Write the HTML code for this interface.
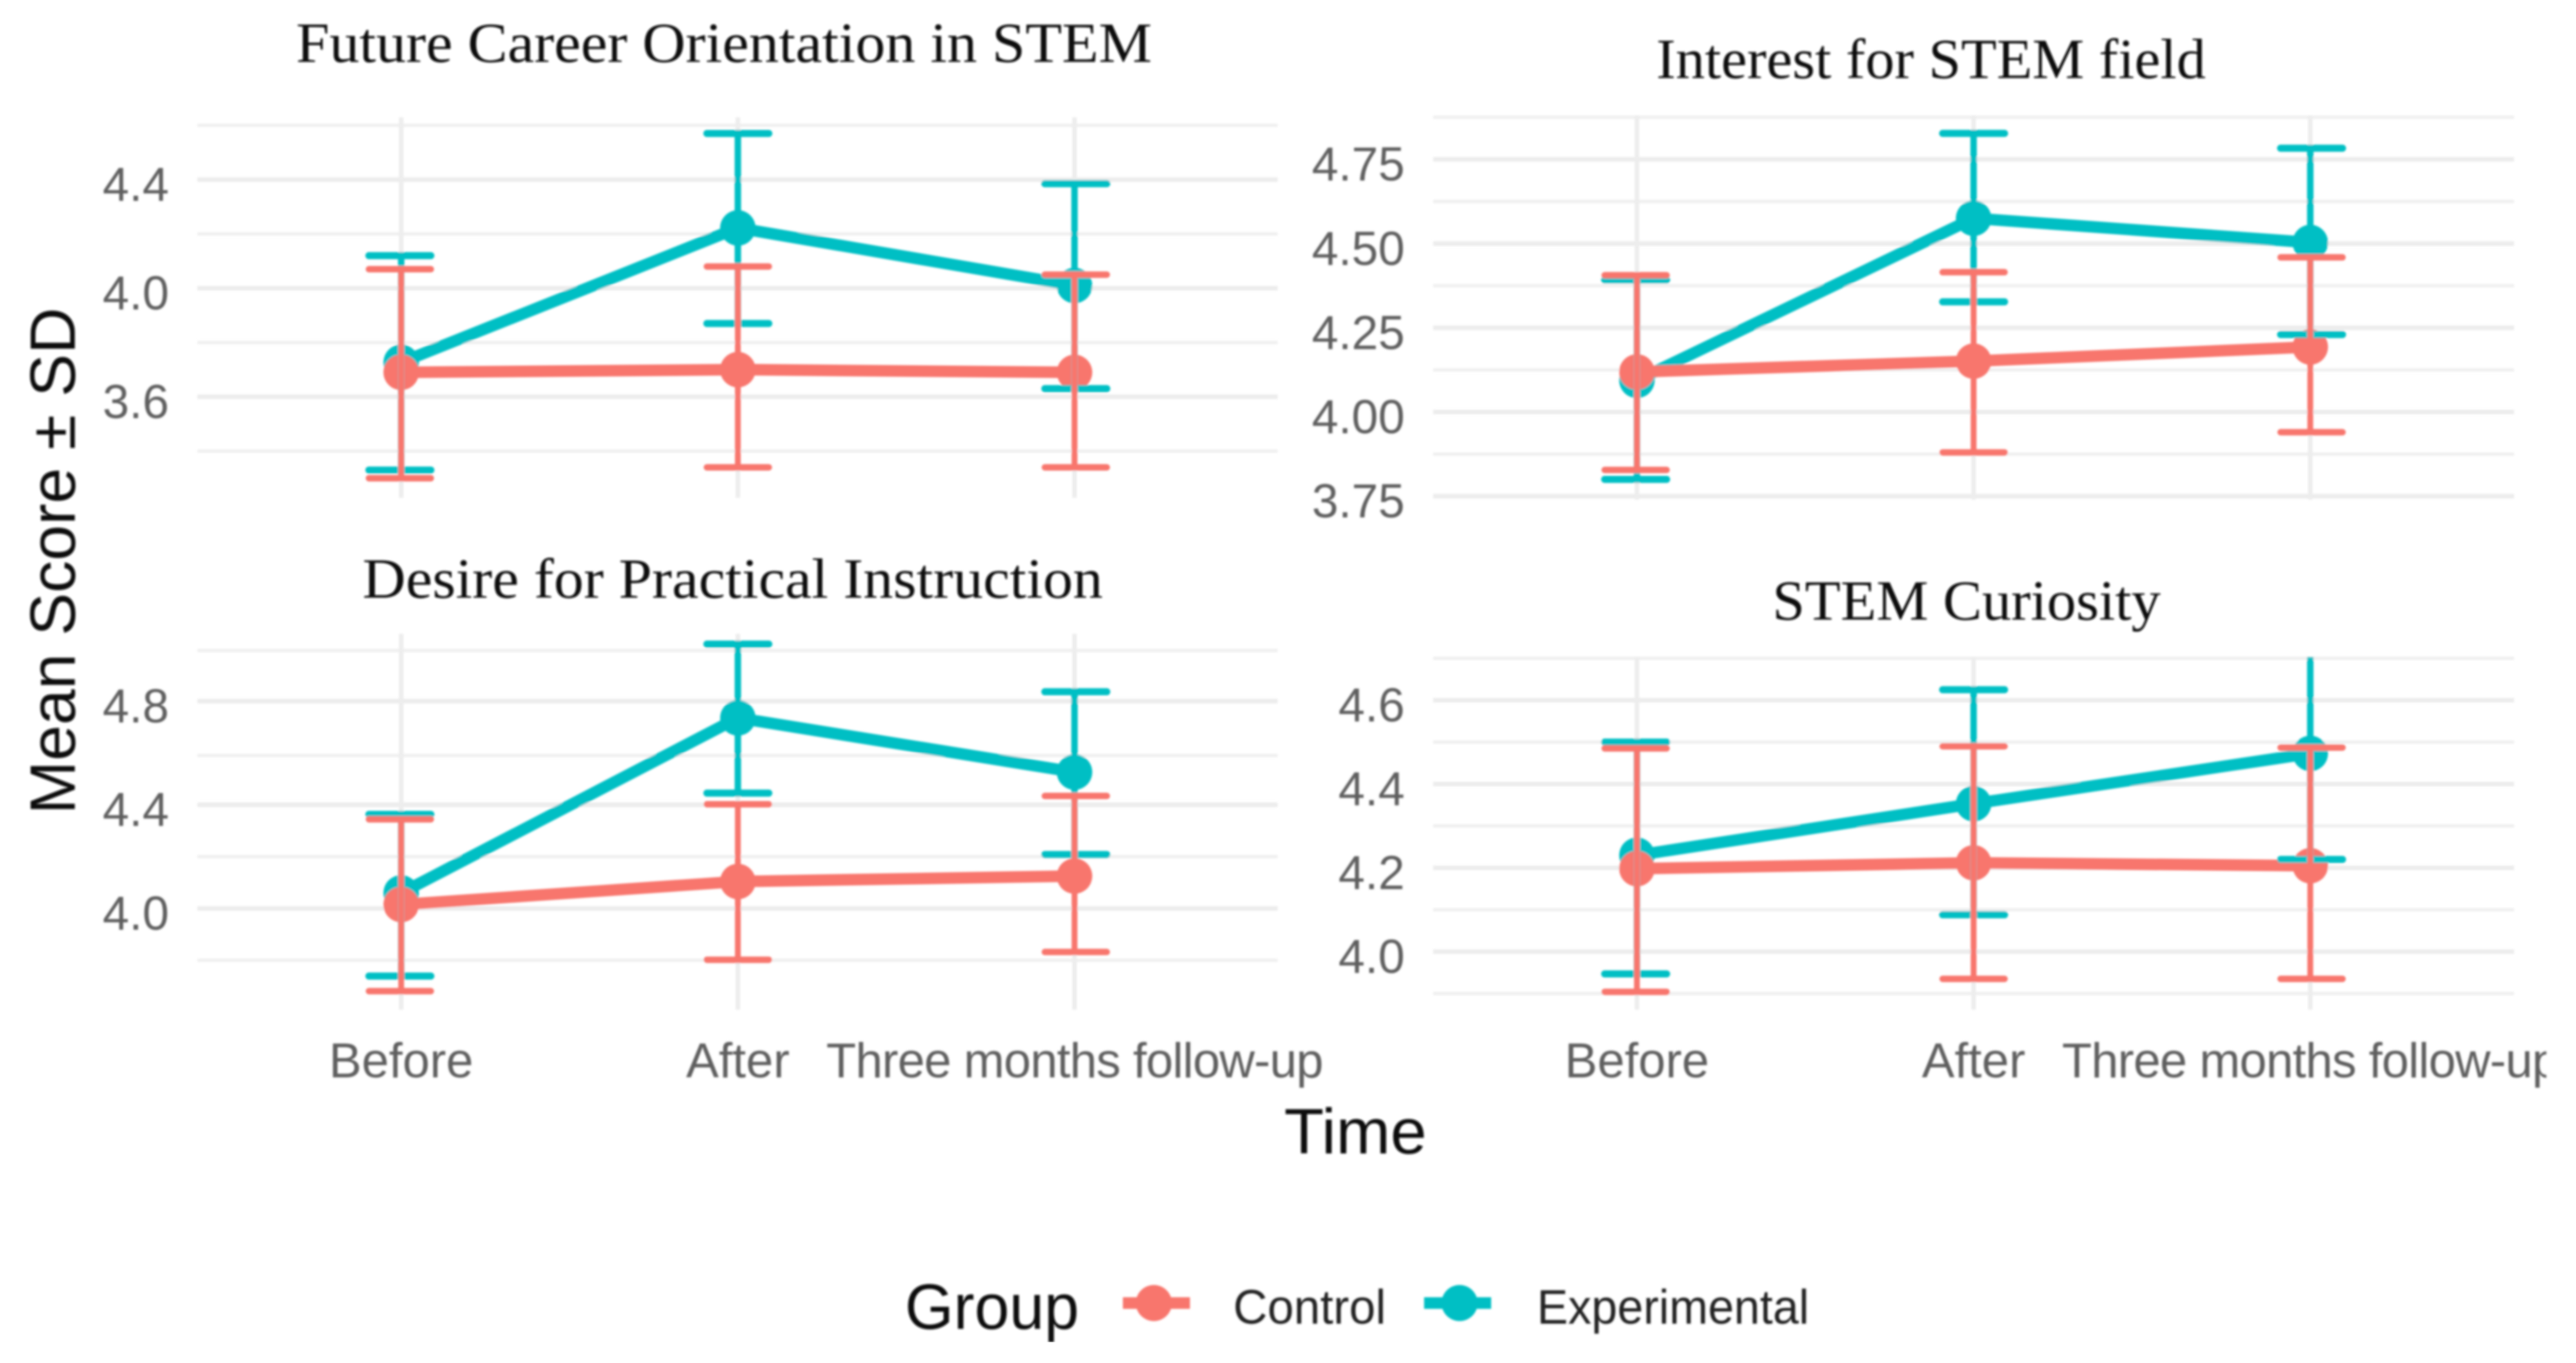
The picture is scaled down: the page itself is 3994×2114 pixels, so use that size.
<!DOCTYPE html>
<html lang="en">
<head>
<meta charset="utf-8">
<title>Mean Score by Time and Group</title>
<style>
html,body{margin:0;padding:0;background:#fff;}
svg{display:block;}
text{font-family:"Liberation Sans",sans-serif;}
.title{font-family:"Liberation Serif",serif;font-size:88px;fill:#111;}
.axis-title{font-size:99px;fill:#111;}
.legend-label{font-size:75px;fill:#222;}
.tick{font-size:74px;fill:#5e5e5e;}
.tick-x{font-size:76px;fill:#5e5e5e;}
.tick-x-long{letter-spacing:-1.1px;}
</style>
</head>
<body>
<svg id="chart" xmlns="http://www.w3.org/2000/svg" width="3994" height="2114" viewBox="0 0 3994 2114">
  <defs>
    <filter id="soft" x="0" y="0" width="100%" height="100%"><feGaussianBlur stdDeviation="1.5"/></filter>
    <clipPath id="clip-right"><rect x="0" y="0" width="3948" height="2114"/></clipPath>
  </defs>
  <rect width="3994" height="2114" fill="#fff"/>
  <g id="root" filter="url(#soft)">
    <g id="panels" clip-path="url(#clip-right)"></g>
    <text class="title" x="459" y="96" textLength="1327" lengthAdjust="spacingAndGlyphs">Future Career Orientation in STEM</text>
    <text class="title" x="2568" y="121" textLength="852" lengthAdjust="spacingAndGlyphs">Interest for STEM field</text>
    <text class="title" x="562" y="927" textLength="1148" lengthAdjust="spacingAndGlyphs">Desire for Practical Instruction</text>
    <text class="title" x="2748" y="961" textLength="602" lengthAdjust="spacingAndGlyphs">STEM Curiosity</text>
    <text class="axis-title" transform="translate(116 1263) rotate(-90)" textLength="786" lengthAdjust="spacingAndGlyphs">Mean Score ± SD</text>
    <text class="axis-title" x="1991" y="1789" textLength="221" lengthAdjust="spacingAndGlyphs">Time</text>
    <g>
      <text class="axis-title" x="1403" y="2061" textLength="270" lengthAdjust="spacingAndGlyphs">Group</text>
      <g>
        <line x1="1741" x2="1845" y1="2021" y2="2021" stroke="#F8766D" stroke-width="18"/>
        <circle cx="1789" cy="2021" r="28" fill="#F8766D"/>
        <text class="legend-label" x="1912" y="2053" textLength="237" lengthAdjust="spacingAndGlyphs">Control</text>
      </g>
      <g>
        <line x1="2208" x2="2312" y1="2021" y2="2021" stroke="#00BFC4" stroke-width="18"/>
        <circle cx="2263" cy="2021" r="28" fill="#00BFC4"/>
        <text class="legend-label" x="2383" y="2053" textLength="422" lengthAdjust="spacingAndGlyphs">Experimental</text>
      </g>
    </g>
  </g>
</svg>
<script>
// ---- Data ----
const categories = ['Before', 'After', 'Three months follow-up'];

const careerControlMean = [3.69, 3.70, 3.69];
const careerControlUpper = [4.07, 4.08, 4.05];
const careerControlLower = [3.30, 3.34, 3.34];
const careerExpMean = [3.727, 4.222, 4.01];
const careerExpUpper = [4.12, 4.57, 4.385];
const careerExpLower = [3.33, 3.87, 3.63];
const careerMajorTicks = [3.6, 4.0, 4.4];
const careerMinorTicks = [3.4, 3.8, 4.2, 4.6];
const careerTickLabels = ['3.6', '4.0', '4.4'];

const interestControlMean = [4.119, 4.151, 4.193];
const interestControlUpper = [4.406, 4.415, 4.459];
const interestControlLower = [3.828, 3.88, 3.94];
const interestExpMean = [4.094, 4.575, 4.503];
const interestExpUpper = [4.392, 4.827, 4.783];
const interestExpLower = [3.80, 4.327, 4.23];
const interestMajorTicks = [3.75, 4.0, 4.25, 4.5, 4.75];
const interestMinorTicks = [3.875, 4.125, 4.375, 4.625, 4.875];
const interestTickLabels = ['3.75', '4.00', '4.25', '4.50', '4.75'];

const desireControlMean = [4.015, 4.104, 4.125];
const desireControlUpper = [4.344, 4.402, 4.434];
const desireControlLower = [3.681, 3.802, 3.832];
const desireExpMean = [4.06, 4.735, 4.526];
const desireExpUpper = [4.363, 5.02, 4.836];
const desireExpLower = [3.739, 4.445, 4.208];
const desireMajorTicks = [4.0, 4.4, 4.8];
const desireMinorTicks = [3.8, 4.2, 4.59, 4.995];
const desireTickLabels = ['4.0', '4.4', '4.8'];

const curiosityControlMean = [4.198, 4.212, 4.205];
const curiosityControlUpper = [4.485, 4.49, 4.487];
const curiosityControlLower = [3.904, 3.935, 3.935];
const curiosityExpMean = [4.23, 4.353, 4.473];
const curiosityExpUpper = [4.50, 4.625, 4.73];
const curiosityExpLower = [3.947, 4.088, 4.22];
const curiosityMajorTicks = [4.0, 4.2, 4.4, 4.6];
const curiosityMinorTicks = [3.9, 4.1, 4.3, 4.5, 4.7];
const curiosityTickLabels = ['4.0', '4.2', '4.4', '4.6'];

// ---- Layout ----
const CONTROL = '#F8766D';
const EXPERIMENTAL = '#00BFC4';
const NS = 'http://www.w3.org/2000/svg';

function layer(parent, name) {
  const el = document.createElementNS(NS, 'g');
  
  
  parent.appendChild(el);
  return el;
}
function draw(parent, tag, name, attrs) {
  const el = document.createElementNS(NS, tag);
  
  
  for (const k in attrs) el.setAttribute(k, attrs[k]);
  parent.appendChild(el);
  return el;
}

function drawPanel(id, box, d) {
  const xScale = i => box.x0 + i * box.step;
  const capX = i => box.x0 - 2 + i * (box.step + 2);
  const yScale = v => box.y4 - (v - 4) * box.unit;
  const g = layer(document.getElementById('panels'), 'panel-' + id);

  const clipId = 'clip-' + id;
  const clip = document.createElementNS(NS, 'clipPath');
  clip.setAttribute('id', clipId);
  const clipRect = document.createElementNS(NS, 'rect');
  clipRect.setAttribute('x', box.left);
  clipRect.setAttribute('y', box.top);
  clipRect.setAttribute('width', box.right - box.left);
  clipRect.setAttribute('height', box.bottom - box.top);
  clip.appendChild(clipRect);
  g.appendChild(clip);

  const grid = layer(g, id + '-grid');
  d.minor.forEach(v => {
    draw(grid, 'line', id + '-grid-minor', {x1: box.left, x2: box.right, y1: yScale(v), y2: yScale(v), stroke: '#efefef', 'stroke-width': 5});
  });
  d.major.forEach(v => {
    draw(grid, 'line', id + '-grid-major', {x1: box.left, x2: box.right, y1: yScale(v), y2: yScale(v), stroke: '#ececec', 'stroke-width': 7});
  });
  categories.forEach((c, i) => {
    draw(grid, 'line', id + '-grid-vertical', {x1: xScale(i), x2: xScale(i), y1: box.top, y2: box.bottom, stroke: '#ededed', 'stroke-width': 7});
  });

  const yAxis = layer(g, id + '-y-axis');
  d.major.forEach((v, i) => {
    const t = draw(yAxis, 'text', id + '-y-tick-label', {class: 'tick', x: box.labelX, y: yScale(v) + 33, 'text-anchor': 'end'});
    t.textContent = d.labels[i];
  });

  if (box.showX) {
    const xAxis = layer(g, id + '-x-axis');
    categories.forEach((c, i) => {
      const cls = c.length > 10 ? 'tick-x tick-x-long' : 'tick-x';
      const t = draw(xAxis, 'text', id + '-x-tick-label', {class: cls, x: xScale(i), y: 1671, 'text-anchor': 'middle'});
      t.textContent = c;
    });
  }

  const marks = layer(g, id + '-marks');
  marks.setAttribute('clip-path', 'url(#' + clipId + ')');

  const linePoints = m => m.map((v, i) => xScale(i) + ',' + yScale(v)).join(' ');
  draw(marks, 'polyline', id + '-line-experimental', {points: linePoints(d.expMean), fill: 'none', stroke: EXPERIMENTAL, 'stroke-width': 18, 'stroke-linejoin': 'round'});
  draw(marks, 'polyline', id + '-line-control', {points: linePoints(d.ctlMean), fill: 'none', stroke: CONTROL, 'stroke-width': 18, 'stroke-linejoin': 'round'});

  d.expMean.forEach((v, i) => {
    draw(marks, 'circle', id + '-point-experimental', {cx: xScale(i), cy: yScale(v), r: 27.5, fill: EXPERIMENTAL});
  });
  d.ctlMean.forEach((v, i) => {
    draw(marks, 'circle', id + '-point-control', {cx: xScale(i), cy: yScale(v), r: 27.5, fill: CONTROL});
  });

  const errorBars = (upper, lower, color, label, capWidth, barWidth) => {
    upper.forEach((u, i) => {
      const x = xScale(i), cx = capX(i), lo = lower[i], half = 48;
      draw(marks, 'line', id + '-errorbar-' + label, {x1: x, x2: x, y1: yScale(u), y2: yScale(lo), stroke: color, 'stroke-width': barWidth});
      draw(marks, 'line', id + '-errorcap-upper-' + label, {x1: cx - half, x2: cx + half, y1: yScale(u), y2: yScale(u), stroke: color, 'stroke-width': capWidth, 'stroke-linecap': 'round'});
      draw(marks, 'line', id + '-errorcap-lower-' + label, {x1: cx - half, x2: cx + half, y1: yScale(lo), y2: yScale(lo), stroke: color, 'stroke-width': capWidth, 'stroke-linecap': 'round'});
    });
  };
  errorBars(d.expUpper, d.expLower, EXPERIMENTAL, 'experimental', 11, 10);
  errorBars(d.ctlUpper, d.ctlLower, CONTROL, 'control', 10, 9);
}

drawPanel('career',
  {x0: 622, step: 522, y4: 447, unit: 421, left: 306, right: 1981, top: 182, bottom: 772, labelX: 262, showX: false},
  {ctlMean: careerControlMean, ctlUpper: careerControlUpper, ctlLower: careerControlLower,
   expMean: careerExpMean, expUpper: careerExpUpper, expLower: careerExpLower,
   major: careerMajorTicks, minor: careerMinorTicks, labels: careerTickLabels});
drawPanel('interest',
  {x0: 2538, step: 522, y4: 639, unit: 522.5, left: 2222, right: 3898, top: 179, bottom: 775, labelX: 2178, showX: false},
  {ctlMean: interestControlMean, ctlUpper: interestControlUpper, ctlLower: interestControlLower,
   expMean: interestExpMean, expUpper: interestExpUpper, expLower: interestExpLower,
   major: interestMajorTicks, minor: interestMinorTicks, labels: interestTickLabels});
drawPanel('desire',
  {x0: 622, step: 522, y4: 1409, unit: 402, left: 306, right: 1981, top: 983, bottom: 1566, labelX: 262, showX: true},
  {ctlMean: desireControlMean, ctlUpper: desireControlUpper, ctlLower: desireControlLower,
   expMean: desireExpMean, expUpper: desireExpUpper, expLower: desireExpLower,
   major: desireMajorTicks, minor: desireMinorTicks, labels: desireTickLabels});
drawPanel('curiosity',
  {x0: 2538, step: 522, y4: 1476, unit: 650, left: 2222, right: 3898, top: 1019, bottom: 1566, labelX: 2178, showX: true},
  {ctlMean: curiosityControlMean, ctlUpper: curiosityControlUpper, ctlLower: curiosityControlLower,
   expMean: curiosityExpMean, expUpper: curiosityExpUpper, expLower: curiosityExpLower,
   major: curiosityMajorTicks, minor: curiosityMinorTicks, labels: curiosityTickLabels});
</script>
</body>
</html>
